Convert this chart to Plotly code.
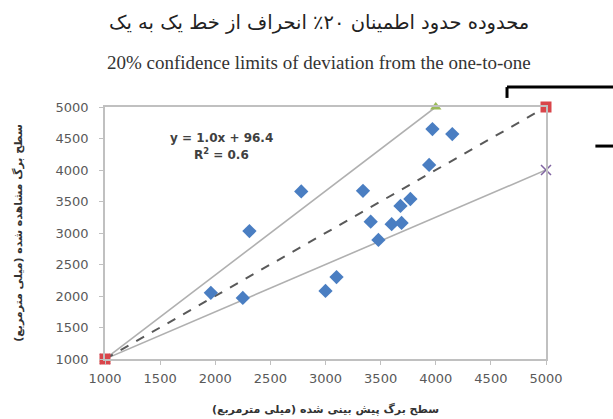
import plotly.graph_objects as go

# Observed vs predicted leaf area (mm^2)
predicted = [2780, 3340, 2310, 3410, 3680, 3770, 3600, 3690, 3480, 1960, 2250, 3000, 3100, 3970, 4150, 3940]
observed = [3660, 3670, 3030, 3180, 3430, 3540, 3140, 3160, 2890, 2050, 1970, 2080, 2300, 4650, 4570, 4080]

one_to_one_x = [1000, 5000]
one_to_one_y = [1000, 5000]
upper_x = [1000, 4000]
upper_y = [1000, 5000]
lower_x = [1000, 5000]
lower_y = [1000, 4000]

ticks = [1000, 1500, 2000, 2500, 3000, 3500, 4000, 4500, 5000]

title_fa = "محدوده حدود اطمینان ۲۰٪ انحراف از خط یک به یک"
title_en = "20% confidence limits of deviation from the one-to-one"
x_title = "<b>سطح برگ پیش بینی شده (میلی مترمربع)</b>"
y_title = "<b>سطح برگ مشاهده شده (میلی مترمربع)</b>"
eq_text = "<b>y = 1.0x + 96.4</b>"
r2_text = "<b>R<sup>2</sup> = 0.6</b>"

fig = go.Figure()

fig.add_trace(go.Scatter(
    x=upper_x, y=upper_y, mode="lines+markers",
    line=dict(color="#B0B0B0", width=1.6),
    marker=dict(symbol="triangle-up", size=10, color="#9BBB59"),
    cliponaxis=False, showlegend=False))
fig.add_trace(go.Scatter(
    x=lower_x, y=lower_y, mode="lines+markers",
    line=dict(color="#B0B0B0", width=1.6),
    marker=dict(symbol="x-thin", size=10, line=dict(color="#8064A2", width=1.5), color="#8064A2"),
    cliponaxis=False, showlegend=False))
fig.add_trace(go.Scatter(
    x=one_to_one_x, y=one_to_one_y, mode="lines+markers",
    line=dict(color="#595959", width=2, dash="dash"),
    marker=dict(symbol="square", size=11, color="#D9454A"),
    cliponaxis=False, showlegend=False))
fig.add_trace(go.Scatter(
    x=predicted, y=observed, mode="markers",
    marker=dict(symbol="diamond", size=11, color="#4A7EC2"),
    cliponaxis=False, showlegend=False))

axis_common = dict(
    range=[1000, 5000], tickvals=ticks, showgrid=False, zeroline=False,
    showline=True, linecolor="#C0C0C0", linewidth=1.5, mirror=True,
    ticks="outside", ticklen=4, tickcolor="#C0C0C0", automargin=False,
    tickfont=dict(family="DejaVu Sans", size=13, color="#595959"),
)

fig.update_layout(
    width=613, height=419,
    margin=dict(l=105, r=67, t=107, b=60),
    paper_bgcolor="white", plot_bgcolor="white",
    xaxis=dict(**axis_common, ticklabelstandoff=3,
               title=dict(text=x_title, standoff=20,
                          font=dict(family="DejaVu Sans", size=11, color="#333333"))),
    yaxis=dict(**axis_common, ticklabelstandoff=8,
               title=dict(text=y_title, standoff=31,
                          font=dict(family="DejaVu Sans", size=11, color="#333333"))),
    annotations=[
        dict(text=title_fa, xref="paper", yref="paper", x=0.485, y=1.337,
             xanchor="center", yanchor="middle", showarrow=False,
             font=dict(family="DejaVu Serif, DejaVu Sans", size=19.5, color="#222222")),
        dict(text=title_en, xref="paper", yref="paper", x=0.485, y=1.178,
             xanchor="center", yanchor="middle", showarrow=False,
             font=dict(family="Liberation Serif", size=19, color="#333333")),
        dict(text=eq_text, x=2060, y=4510, xref="x", yref="y", showarrow=False,
             font=dict(family="DejaVu Sans", size=12, color="#404040")),
        dict(text=r2_text, x=2060, y=4260, xref="x", yref="y", showarrow=False,
             font=dict(family="DejaVu Sans", size=12, color="#404040")),
    ],
    shapes=[
        dict(type="line", xref="paper", yref="paper", x0=0.9116, y0=1.036, x1=0.9116, y1=1.079,
             line=dict(color="black", width=3)),
        dict(type="line", xref="paper", yref="paper", x0=0.9116, y0=1.079, x1=1.16, y1=1.079,
             line=dict(color="black", width=3)),
        dict(type="line", xref="paper", yref="paper", x0=1.112, y0=0.845, x1=1.16, y1=0.845,
             line=dict(color="black", width=3)),
    ],
)

fig.write_html("out.html")
